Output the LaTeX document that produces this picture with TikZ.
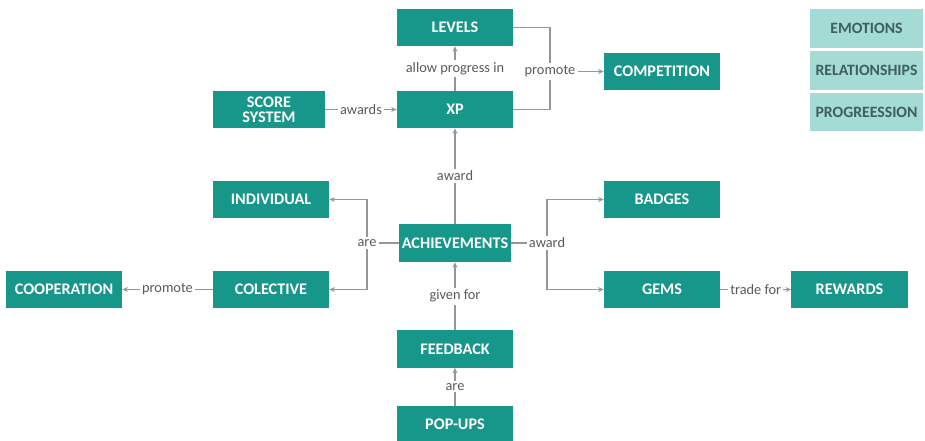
\documentclass[tikz,border=0pt]{standalone}
\usepackage{fontspec}
\setmainfont{Carlito}
\usetikzlibrary{arrows.meta}
\definecolor{boxteal}{HTML}{17968A}
\definecolor{legendteal}{HTML}{A4DBD5}
\definecolor{legendtext}{HTML}{3E5F5B}
\definecolor{linkgrey}{HTML}{969696}
\definecolor{labelgrey}{HTML}{5A5A5A}
\tikzset{
  concept/.style={fill=boxteal,text=white,font=\bfseries\fontsize{11.5}{12.5}\selectfont,
    minimum width=2.9cm,minimum height=0.925cm,align=center,inner sep=1pt},
  legend/.style={fill=legendteal,text=legendtext,font=\bfseries\fontsize{11.2}{12}\selectfont,
    minimum width=2.825cm,minimum height=0.95cm,inner sep=1pt},
  link/.style={draw=linkgrey,line width=0.8pt,-{Stealth[length=4pt,width=3.5pt]}},
  plain/.style={draw=linkgrey,line width=0.8pt},
  lbl/.style={fill=white,text=labelgrey,font=\fontsize{10.2}{11}\selectfont,inner sep=1.5pt},
}
\begin{document}
\begin{tikzpicture}[x=0.025cm,y=-0.025cm]
        \useasboundingbox (0,0) rectangle (925,440);
        %% Concepts
        \node[concept] (levels) at (455,27.5) {LEVELS};
        \node[concept] (xp) at (455,109.5) {XP};
        \node[concept,minimum width=2.8cm] (score) at (269,109.5) {SCORE\\[-2pt]SYSTEM};
        \node[concept] (comp) at (662,71.5) {COMPETITION};
        \node[concept] (indiv) at (271,199.5) {INDIVIDUAL};
        \node[concept,minimum width=2.8cm,minimum height=0.95cm] (ach) at (455,243) {ACHIEVEMENTS};
        \node[concept] (badges) at (662,199.5) {BADGES};
        \node[concept] (coop) at (64,289.5) {COOPERATION};
        \node[concept] (colect) at (271,289.5) {COLECTIVE};
        \node[concept] (gems) at (662,289.5) {GEMS};
        \node[concept] (rewards) at (849.5,289.5) {REWARDS};
        \node[concept] (feedback) at (455,349) {FEEDBACK};
        \node[concept] (popups) at (455,424.5) {POP-UPS};
        %% Legend
        \node[legend] (emo) at (866.5,28.5) {EMOTIONS};
        \node[legend] (rel) at (866.5,70.5) {RELATIONSHIPS};
        \node[legend] (prog) at (866.5,112) {PROGREESSION};
        %% Straight links
        \draw[link] (xp.north) -- node[lbl] {allow progress in} (levels.south);
        \draw[link] (score.east) -- node[lbl] {awards} (xp.west);
        \draw[link] (ach.north) -- node[lbl] {award} (xp.south);
        \draw[link] (colect.west) -- node[lbl] {promote} (coop.east);
        \draw[link] (gems.east) -- node[lbl] {trade for} (rewards.west);
        \draw[link] (feedback.north) -- node[lbl] {given for} (ach.south);
        \draw[link] (popups.north) -- node[lbl] {are} (feedback.south);
        %% Branching links
        \node[lbl] (prom) at (550,71.5) {promote};
        \draw[plain] (levels.east) -| (prom.north);
        \draw[plain] (xp.east) -| (prom.south);
        \draw[link] (prom.east) -- (comp.west);
        \node[lbl] (are) at (367,243) {are};
        \draw[plain] (ach.west) -- (are.east);
        \draw[link] (are.north) |- (indiv.east);
        \draw[link] (are.south) |- (colect.east);
        \node[lbl] (aw) at (547,243) {award};
        \draw[plain] (ach.east) -- (aw.west);
        \draw[link] (aw.north) |- (badges.west);
        \draw[link] (aw.south) |- (gems.west);
\end{tikzpicture}
\end{document}
